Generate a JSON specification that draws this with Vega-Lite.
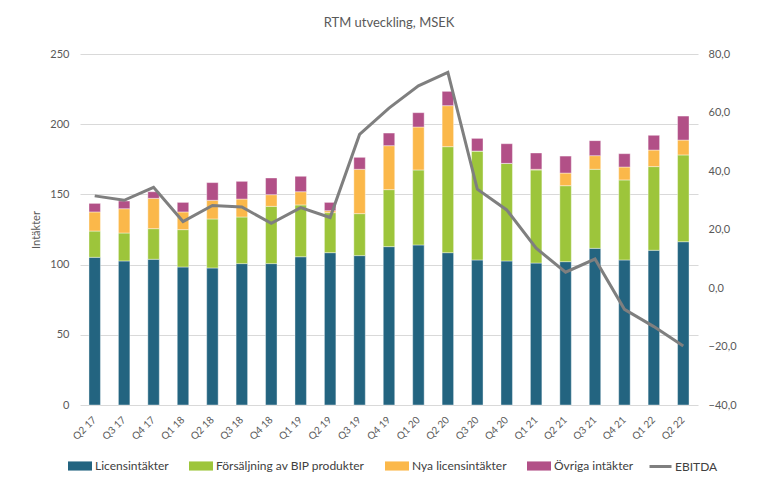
{
  "$schema": "https://vega.github.io/schema/vega-lite/v6.json",
  "width": 618,
  "height": 351,
  "autosize": {"type": "none"},
  "padding": {"left": 80, "top": 54, "right": 60, "bottom": 77},
  "background": "white",
  "title": {"text": "RTM utveckling, MSEK", "fontSize": 13, "font": "Lato", "fontWeight": "normal", "color": "#595959", "offset": 18, "anchor": "middle"},
  "config": {
    "view": {"stroke": null},
    "font": "Lato",
    "axis": {"labelColor": "#595959", "labelFont": "Lato", "titleFont": "Lato", "titleColor": "#595959", "titleFontWeight": "normal", "domain": false, "ticks": false}
  },
  "datasets": {
    "bars": [
      {"q": "Q2 17", "c": "Licensintäkter", "k": 1, "v": 105.2}, {"q": "Q2 17", "c": "Försäljning av BIP produkter", "k": 2, "v": 18.7}, {"q": "Q2 17", "c": "Nya licensintäkter", "k": 3, "v": 13.6}, {"q": "Q2 17", "c": "Övriga intäkter", "k": 4, "v": 6.1},
      {"q": "Q3 17", "c": "Licensintäkter", "k": 1, "v": 102.6}, {"q": "Q3 17", "c": "Försäljning av BIP produkter", "k": 2, "v": 19.9}, {"q": "Q3 17", "c": "Nya licensintäkter", "k": 3, "v": 17.3}, {"q": "Q3 17", "c": "Övriga intäkter", "k": 4, "v": 5.5},
      {"q": "Q4 17", "c": "Licensintäkter", "k": 1, "v": 103.8}, {"q": "Q4 17", "c": "Försäljning av BIP produkter", "k": 2, "v": 21.8}, {"q": "Q4 17", "c": "Nya licensintäkter", "k": 3, "v": 21.6}, {"q": "Q4 17", "c": "Övriga intäkter", "k": 4, "v": 4.7},
      {"q": "Q1 18", "c": "Licensintäkter", "k": 1, "v": 98.3}, {"q": "Q1 18", "c": "Försäljning av BIP produkter", "k": 2, "v": 26.6}, {"q": "Q1 18", "c": "Nya licensintäkter", "k": 3, "v": 12.6}, {"q": "Q1 18", "c": "Övriga intäkter", "k": 4, "v": 6.8},
      {"q": "Q2 18", "c": "Licensintäkter", "k": 1, "v": 97.6}, {"q": "Q2 18", "c": "Försäljning av BIP produkter", "k": 2, "v": 34.9}, {"q": "Q2 18", "c": "Nya licensintäkter", "k": 3, "v": 13.3}, {"q": "Q2 18", "c": "Övriga intäkter", "k": 4, "v": 12.6},
      {"q": "Q3 18", "c": "Licensintäkter", "k": 1, "v": 100.7}, {"q": "Q3 18", "c": "Försäljning av BIP produkter", "k": 2, "v": 33.2}, {"q": "Q3 18", "c": "Nya licensintäkter", "k": 3, "v": 12.8}, {"q": "Q3 18", "c": "Övriga intäkter", "k": 4, "v": 12.6},
      {"q": "Q4 18", "c": "Licensintäkter", "k": 1, "v": 100.7}, {"q": "Q4 18", "c": "Försäljning av BIP produkter", "k": 2, "v": 40.8}, {"q": "Q4 18", "c": "Nya licensintäkter", "k": 3, "v": 8.3}, {"q": "Q4 18", "c": "Övriga intäkter", "k": 4, "v": 11.9},
      {"q": "Q1 19", "c": "Licensintäkter", "k": 1, "v": 105.6}, {"q": "Q1 19", "c": "Försäljning av BIP produkter", "k": 2, "v": 36.9}, {"q": "Q1 19", "c": "Nya licensintäkter", "k": 3, "v": 9.4}, {"q": "Q1 19", "c": "Övriga intäkter", "k": 4, "v": 11.0},
      {"q": "Q2 19", "c": "Licensintäkter", "k": 1, "v": 108.5}, {"q": "Q2 19", "c": "Försäljning av BIP produkter", "k": 2, "v": 28.5}, {"q": "Q2 19", "c": "Nya licensintäkter", "k": 3, "v": 1.4}, {"q": "Q2 19", "c": "Övriga intäkter", "k": 4, "v": 5.9},
      {"q": "Q3 19", "c": "Licensintäkter", "k": 1, "v": 106.4}, {"q": "Q3 19", "c": "Försäljning av BIP produkter", "k": 2, "v": 29.9}, {"q": "Q3 19", "c": "Nya licensintäkter", "k": 3, "v": 31.6}, {"q": "Q3 19", "c": "Övriga intäkter", "k": 4, "v": 8.5},
      {"q": "Q4 19", "c": "Licensintäkter", "k": 1, "v": 112.8}, {"q": "Q4 19", "c": "Försäljning av BIP produkter", "k": 2, "v": 40.6}, {"q": "Q4 19", "c": "Nya licensintäkter", "k": 3, "v": 31.3}, {"q": "Q4 19", "c": "Övriga intäkter", "k": 4, "v": 9.0},
      {"q": "Q1 20", "c": "Licensintäkter", "k": 1, "v": 114.0}, {"q": "Q1 20", "c": "Försäljning av BIP produkter", "k": 2, "v": 53.4}, {"q": "Q1 20", "c": "Nya licensintäkter", "k": 3, "v": 30.6}, {"q": "Q1 20", "c": "Övriga intäkter", "k": 4, "v": 10.2},
      {"q": "Q2 20", "c": "Licensintäkter", "k": 1, "v": 108.5}, {"q": "Q2 20", "c": "Försäljning av BIP produkter", "k": 2, "v": 75.5}, {"q": "Q2 20", "c": "Nya licensintäkter", "k": 3, "v": 29.2}, {"q": "Q2 20", "c": "Övriga intäkter", "k": 4, "v": 10.2},
      {"q": "Q3 20", "c": "Licensintäkter", "k": 1, "v": 103.3}, {"q": "Q3 20", "c": "Försäljning av BIP produkter", "k": 2, "v": 77.6}, {"q": "Q3 20", "c": "Nya licensintäkter", "k": 3, "v": 0}, {"q": "Q3 20", "c": "Övriga intäkter", "k": 4, "v": 9.0},
      {"q": "Q4 20", "c": "Licensintäkter", "k": 1, "v": 102.6}, {"q": "Q4 20", "c": "Försäljning av BIP produkter", "k": 2, "v": 69.5}, {"q": "Q4 20", "c": "Nya licensintäkter", "k": 3, "v": 0}, {"q": "Q4 20", "c": "Övriga intäkter", "k": 4, "v": 14.0},
      {"q": "Q1 21", "c": "Licensintäkter", "k": 1, "v": 101.1}, {"q": "Q1 21", "c": "Försäljning av BIP produkter", "k": 2, "v": 66.3}, {"q": "Q1 21", "c": "Nya licensintäkter", "k": 3, "v": 0.5}, {"q": "Q1 21", "c": "Övriga intäkter", "k": 4, "v": 11.6},
      {"q": "Q2 21", "c": "Licensintäkter", "k": 1, "v": 102.1}, {"q": "Q2 21", "c": "Försäljning av BIP produkter", "k": 2, "v": 54.1}, {"q": "Q2 21", "c": "Nya licensintäkter", "k": 3, "v": 9.0}, {"q": "Q2 21", "c": "Övriga intäkter", "k": 4, "v": 12.1},
      {"q": "Q3 21", "c": "Licensintäkter", "k": 1, "v": 111.6}, {"q": "Q3 21", "c": "Försäljning av BIP produkter", "k": 2, "v": 56.3}, {"q": "Q3 21", "c": "Nya licensintäkter", "k": 3, "v": 9.7}, {"q": "Q3 21", "c": "Övriga intäkter", "k": 4, "v": 10.7},
      {"q": "Q4 21", "c": "Licensintäkter", "k": 1, "v": 103.3}, {"q": "Q4 21", "c": "Försäljning av BIP produkter", "k": 2, "v": 57.0}, {"q": "Q4 21", "c": "Nya licensintäkter", "k": 3, "v": 9.2}, {"q": "Q4 21", "c": "Övriga intäkter", "k": 4, "v": 9.5},
      {"q": "Q1 22", "c": "Licensintäkter", "k": 1, "v": 110.2}, {"q": "Q1 22", "c": "Försäljning av BIP produkter", "k": 2, "v": 59.6}, {"q": "Q1 22", "c": "Nya licensintäkter", "k": 3, "v": 11.8}, {"q": "Q1 22", "c": "Övriga intäkter", "k": 4, "v": 10.5},
      {"q": "Q2 22", "c": "Licensintäkter", "k": 1, "v": 116.3}, {"q": "Q2 22", "c": "Försäljning av BIP produkter", "k": 2, "v": 61.8}, {"q": "Q2 22", "c": "Nya licensintäkter", "k": 3, "v": 10.6}, {"q": "Q2 22", "c": "Övriga intäkter", "k": 4, "v": 17.1}
    ],
    "ebitda": [
      {"q": "Q2 17", "e": 31.5}, {"q": "Q3 17", "e": 30.0}, {"q": "Q4 17", "e": 34.4}, {"q": "Q1 18", "e": 22.7},
      {"q": "Q2 18", "e": 28.2}, {"q": "Q3 18", "e": 27.7}, {"q": "Q4 18", "e": 22.1}, {"q": "Q1 19", "e": 27.5},
      {"q": "Q2 19", "e": 24.1}, {"q": "Q3 19", "e": 52.5}, {"q": "Q4 19", "e": 61.5}, {"q": "Q1 20", "e": 69.1},
      {"q": "Q2 20", "e": 73.7}, {"q": "Q3 20", "e": 33.8}, {"q": "Q4 20", "e": 26.7}, {"q": "Q1 21", "e": 13.6},
      {"q": "Q2 21", "e": 5.4}, {"q": "Q3 21", "e": 9.9}, {"q": "Q4 21", "e": -7.3}, {"q": "Q1 22", "e": -13.2},
      {"q": "Q2 22", "e": -19.8}
    ]
  },
  "layer": [
    {
      "data": {"name": "bars"},
      "mark": {"type": "bar", "stroke": "#ffffff", "strokeWidth": 0.4},
      "encoding": {
        "x": {
          "field": "q", "type": "nominal", "sort": null,
          "scale": {"paddingInner": 0.61, "paddingOuter": 0.305},
          "axis": {"title": null, "labelAngle": -45, "labelAlign": "right", "labelBaseline": "middle", "labelFontSize": 10, "labelPadding": 13, "grid": false}
        },
        "y": {
          "field": "v", "type": "quantitative", "stack": "zero",
          "scale": {"domain": [0, 250]},
          "axis": {"title": "Intäkter", "titleFontSize": 11, "titlePadding": 8, "values": [0, 50, 100, 150, 200, 250], "labelFontSize": 11, "labelPadding": 11, "grid": true, "gridColor": "#D9D9D9", "gridWidth": 1}
        },
        "color": {
          "field": "c", "type": "nominal",
          "scale": {
            "domain": ["Licensintäkter", "Försäljning av BIP produkter", "Nya licensintäkter", "Övriga intäkter"],
            "range": ["#236480", "#9DC53B", "#FBB84A", "#B25087"]
          },
          "legend": {
            "title": null, "orient": "none", "legendX": -12, "legendY": 400, "direction": "horizontal",
            "labelFontSize": 12, "labelColor": "#404040", "labelFont": "Lato", "columnPadding": 20, "labelOffset": 3,
            "symbolType": "M-1,-0.38H1V0.38H-1Z", "symbolSize": 576, "symbolStrokeWidth": 0, "symbolOpacity": 1
          }
        },
        "order": {"field": "k", "type": "quantitative"}
      }
    },
    {
      "data": {"name": "ebitda"},
      "mark": {"type": "line", "strokeWidth": 3},
      "encoding": {
        "x": {"field": "q", "type": "nominal", "sort": null},
        "y": {
          "field": "e", "type": "quantitative",
          "scale": {"domain": [-40, 80]},
          "axis": {"orient": "right", "title": null, "values": [-40, -20, 0, 20, 40, 60, 80], "labelFontSize": 11, "labelPadding": 10, "grid": false,
                   "labelExpr": "replace(format(datum.value, '.1f'), '.', ',')"}
        },
        "stroke": {
          "datum": "EBITDA", "type": "nominal",
          "scale": {"domain": ["EBITDA"], "range": ["#7F7F7F"]},
          "legend": {
            "title": null, "orient": "none", "legendX": 568, "legendY": 400, "direction": "horizontal",
            "labelFontSize": 12, "labelColor": "#404040", "labelFont": "Lato", "labelOffset": 2,
            "symbolType": "stroke", "symbolSize": 484, "symbolStrokeWidth": 3, "symbolStrokeColor": "#7F7F7F", "symbolOpacity": 1
          }
        }
      }
    }
  ],
  "resolve": {"scale": {"y": "independent"}}
}
